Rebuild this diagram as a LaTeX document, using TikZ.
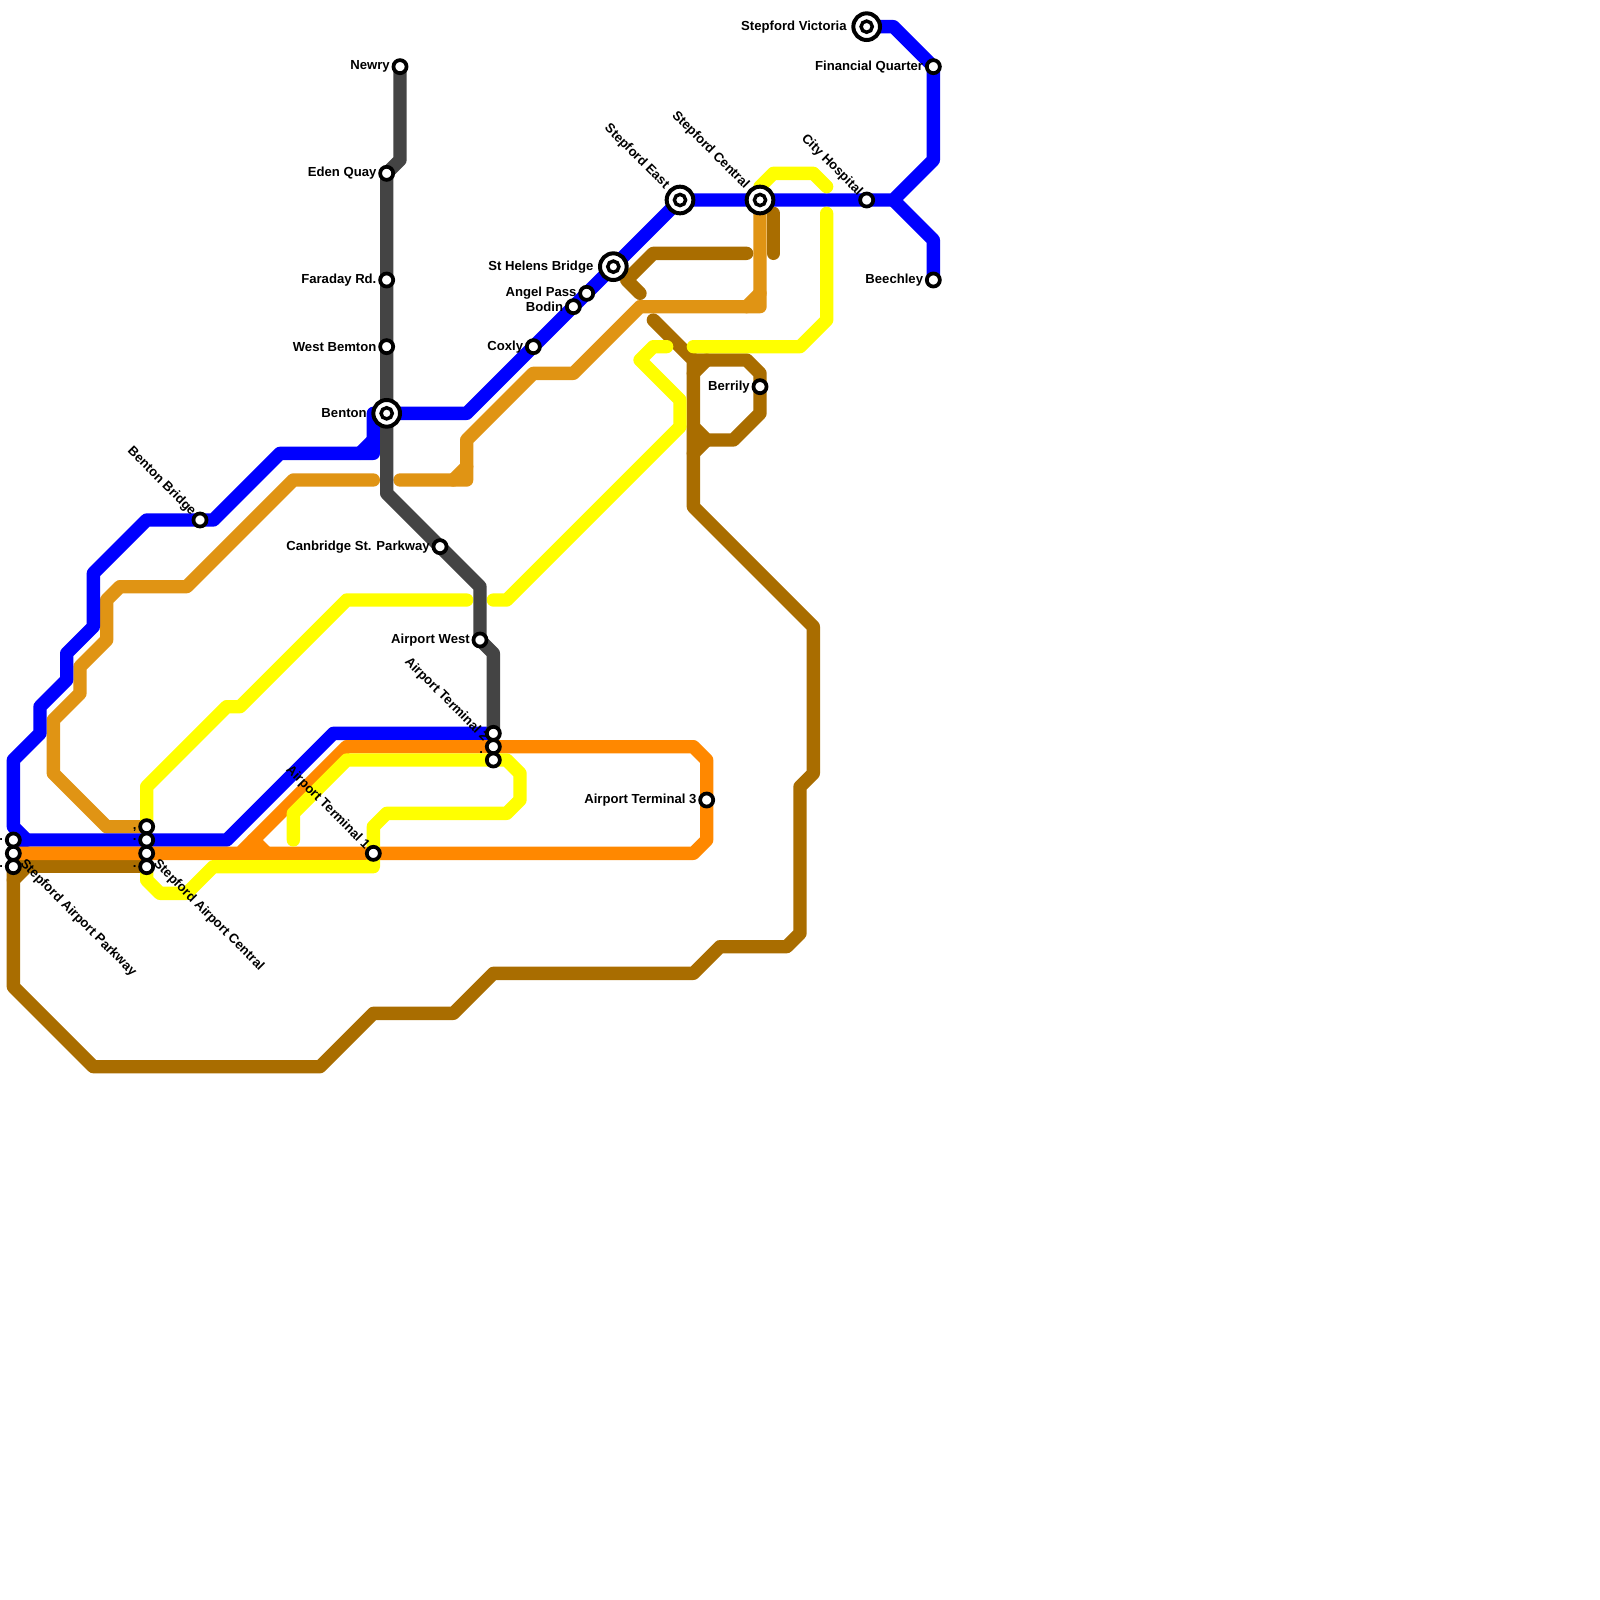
\documentclass[tikz,border=0pt]{standalone}
\usepackage{fontspec}
\setmainfont{Liberation Sans}
\usepackage{xcolor}
\definecolor{MapBlue}{HTML}{0000FF}
\definecolor{MapOrange}{HTML}{FF8800}
\definecolor{MapYellow}{HTML}{FFFF00}
\definecolor{MapGold}{HTML}{E09414}
\definecolor{MapBrown}{HTML}{A96D00}
\definecolor{MapGrey}{HTML}{444444}
\usetikzlibrary{positioning, backgrounds}
\tikzset{
  route/.style={line width=1cm, line cap=round, line join=round},
  stop/.style={circle, draw=black, fill=white, line width=.28cm, minimum size=.98cm, inner sep=0pt, outer sep=0pt},
  hub/.style={circle, draw=black, fill=white, line width=.3cm, minimum size=2cm, inner sep=0pt, outer sep=0pt,
    path picture={\draw[line width=.26cm] (path picture bounding box.center) circle (.42cm);}},
  lbl/.style={font=\fontsize{28}{30}\selectfont\bfseries, inner sep=0pt, outer sep=0pt},
  slant/.style={lbl, rotate=-45},
}
\begin{document}
\begin{tikzpicture}[x=1cm, y=-1cm]
  \useasboundingbox (0,0) rectangle (120,120);
  % hubs
  \node[hub] (victoria) at (65,2) {};
  \node[hub] (central) at (57,15) {};
  \node[hub] (east) at (51,15) {};
  \node[hub] (helens) at (46,20) {};
  \node[hub] (benton) at (29,31) {};
  % stops
  \node[stop] (financial) at (70,5) {};
  \node[stop] (beechley) at (70,21) {};
  \node[stop] (hospital) at (65,15) {};
  \node[stop] (berrily) at (57,29) {};
  \node[stop] (angel) at (44,22) {};
  \node[stop] (bodin) at (43,23) {};
  \node[stop] (coxly) at (40,26) {};
  \node[stop] (newry) at (30,5) {};
  \node[stop] (eden) at (29,13) {};
  \node[stop] (faraday) at (29,21) {};
  \node[stop] (bemton) at (29,26) {};
  \node[stop] (bridge) at (15,39) {};
  \node[stop] (canbridge) at (33,41) {};
  \node[stop] (west) at (36,48) {};
  \node[stop] (termtwo) at (37,55) {};
  \node[stop] (termtwob) at (37,56) {};
  \node[stop] (termtwoc) at (37,57) {};
  \node[stop] (termthree) at (53,60) {};
  \node[stop] (termone) at (28,64) {};
  \node[stop] (cenA) at (11,62) {};
  \node[stop] (cenB) at (11,63) {};
  \node[stop] (cenC) at (11,64) {};
  \node[stop] (cenD) at (11,65) {};
  \node[stop] (parkA) at (1,63) {};
  \node[stop] (parkB) at (1,64) {};
  \node[stop] (parkC) at (1,65) {};
  % labels
  \node[lbl, left=.5cm of victoria] (victorialbl) {Stepford Victoria};
  \node[lbl, left=.28cm of financial] (financiallbl) {Financial Quarter};
  \node[lbl, left=.28cm of beechley] (beechleylbl) {Beechley};
  \node[lbl, left=.28cm of berrily] (berrilylbl) {Berrily};
  \node[lbl, left=.5cm of helens] (helenslbl) {St Helens Bridge};
  \node[lbl, left=.28cm of angel] (angellbl) {Angel Pass};
  \node[lbl, left=.28cm of bodin] (bodinlbl) {Bodin};
  \node[lbl, left=.28cm of coxly] (coxlylbl) {Coxly};
  \node[lbl, left=.28cm of newry] (newrylbl) {Newry};
  \node[lbl, left=.28cm of eden] (edenlbl) {Eden Quay};
  \node[lbl, left=.28cm of faraday] (faradaylbl) {Faraday Rd.};
  \node[lbl, left=.28cm of bemton] (bemtonlbl) {West Bemton};
  \node[lbl, left=.5cm of benton] (bentonlbl) {Benton};
  \node[lbl, left=.28cm of canbridge] (canbridgelbl) {Canbridge St. Parkway};
  \node[lbl, left=.28cm of west] (westlbl) {Airport West};
  \node[lbl, left=.28cm of termthree] (termthreelbl) {Airport Terminal 3};
  \node[slant, above left=.4cm of east, anchor=east] (eastlbl) {Stepford East};
  \node[slant, above left=.4cm of central, anchor=east] (centrallbl) {Stepford Central};
  \node[slant, above left=.2cm of hospital, anchor=east] (hospitallbl) {City Hospital};
  \node[slant, above left=.2cm of bridge, anchor=east] (bridgelbl) {Benton Bridge};
  \node[slant, above left=.3cm of termtwob, anchor=east] (termtwolbl) {Airport Terminal 2};
  \node[slant, above left=.15cm of termone, anchor=east] (termonelbl) {Airport Terminal 1};
  \node[slant, below right=.45cm of parkB, anchor=west] (parklbl) {Stepford Airport Parkway};
  \node[slant, below right=.45cm of cenC, anchor=west] (cenlbl) {Stepford Airport Central};
  \node[lbl, left=.28cm of parkA] (dotA) {.};
  \node[lbl, left=.28cm of parkC] (dotB) {.};
  \node[lbl, left=.28cm of cenA, yshift=-.2cm] (dotC) {,};
  \node[lbl, left=.28cm of cenB] (dotD) {.};
  \node[lbl, left=.28cm of cenD] (dotE) {.};
  \node[lbl, left=.28cm of termtwob, yshift=-.45cm] (dotF) {.};
  % lines
  \begin{scope}[on background layer]
    \draw[route, MapBrown] (parkC.center) -- (cenD.center);
    \draw[route, MapBrown] (parkC.center) -- (1,74) -- (7,80) -- (24,80) -- (28,76) -- (34,76) -- (37,73)
      -- (52,73) -- (54,71) -- (59,71) -- (60,70) -- (60,59) -- (61,58) -- (61,47) -- (52,38) -- (52,27) -- (49,24);
    \draw[route, MapBrown] (1,66) -- (2,65);
    \draw[route, MapBrown] (52,27) -- (56,27) -- (57,28) -- (berrily.center) -- (57,31) -- (55,33) -- (53,33) -- (52,32);
    \draw[route, MapBrown] (52,28) -- (53,27);
    \draw[route, MapBrown] (53,33) -- (52,34);
    \draw[route, MapBrown] (56,19) -- (49,19) -- (47,21) -- (48,22);
    \draw[route, MapBrown] (58,16) -- (58,19);
    \draw[route, MapGold] (cenA.center) -- (8,62) -- (4,58) -- (4,54) -- (6,52) -- (6,50) -- (8,48) -- (8,45)
      -- (9,44) -- (14,44) -- (22,36) -- (28,36);
    \draw[route, MapGold] (30,36) -- (35,36) -- (35,33) -- (40,28) -- (43,28) -- (48,23) -- (57,23) -- (central.center);
    \draw[route, MapGold] (34,36) -- (35,35);
    \draw[route, MapGold] (56,23) -- (57,22);
    \draw[route, MapBlue] (victoria.center) -- (67,2) -- (financial.center) -- (70,12) -- (67,15) -- (hospital.center)
      -- (central.center) -- (east.center) -- (helens.center) -- (angel.center) -- (bodin.center) -- (coxly.center)
      -- (35,31) -- (benton.center);
    \draw[route, MapBlue] (67,15) -- (70,18) -- (beechley.center);
    \draw[route, MapBlue] (benton.center) -- (28,31) -- (28,34) -- (21,34) -- (16,39) -- (bridge.center) -- (11,39) -- (7,43) -- (7,47)
      -- (5,49) -- (5,51) -- (3,53) -- (3,55) -- (1,57) -- (1,62) -- (2,63) -- (17,63) -- (25,55) -- (termtwo.center);
    \draw[route, MapBlue] (27,34) -- (28,33);
    \draw[route, MapBlue] (parkA.center) -- (2,63);
    \draw[route, MapOrange] (parkB.center) -- (termone.center) -- (52,64) -- (53,63) -- (termthree.center) -- (53,57) -- (52,56)
      -- (termtwob.center) -- (26,56) -- (19,63) -- (18,64);
    \draw[route, MapOrange] (19,63) -- (20,64);
    \draw[route, MapYellow] (cenA.center) -- (11,59) -- (17,53) -- (18,53) -- (26,45) -- (35,45);
    \draw[route, MapYellow] (37,45) -- (38,45) -- (51,32) -- (51,30) -- (48,27) -- (49,26) -- (50,26);
    \draw[route, MapYellow] (52,26) -- (60,26) -- (62,24) -- (62,16);
    \draw[route, MapYellow] (62,14) -- (61,13) -- (58,13) -- (57,14) -- (central.center);
    \draw[route, MapYellow] (cenD.center) -- (11,66) -- (12,67) -- (14,67) -- (16,65) -- (28,65) -- (termone.center) -- (28,62)
      -- (29,61) -- (38,61) -- (39,60) -- (39,58) -- (38,57) -- (termtwoc.center) -- (26,57) -- (22,61) -- (22,63);
    \draw[route, MapGrey] (newry.center) -- (30,12) -- (eden.center) -- (faraday.center) -- (bemton.center) -- (benton.center)
      -- (29,37) -- (canbridge.center) -- (36,44) -- (west.center) -- (37,49) -- (termtwo.center);
  \end{scope}
\end{tikzpicture}
\end{document}
